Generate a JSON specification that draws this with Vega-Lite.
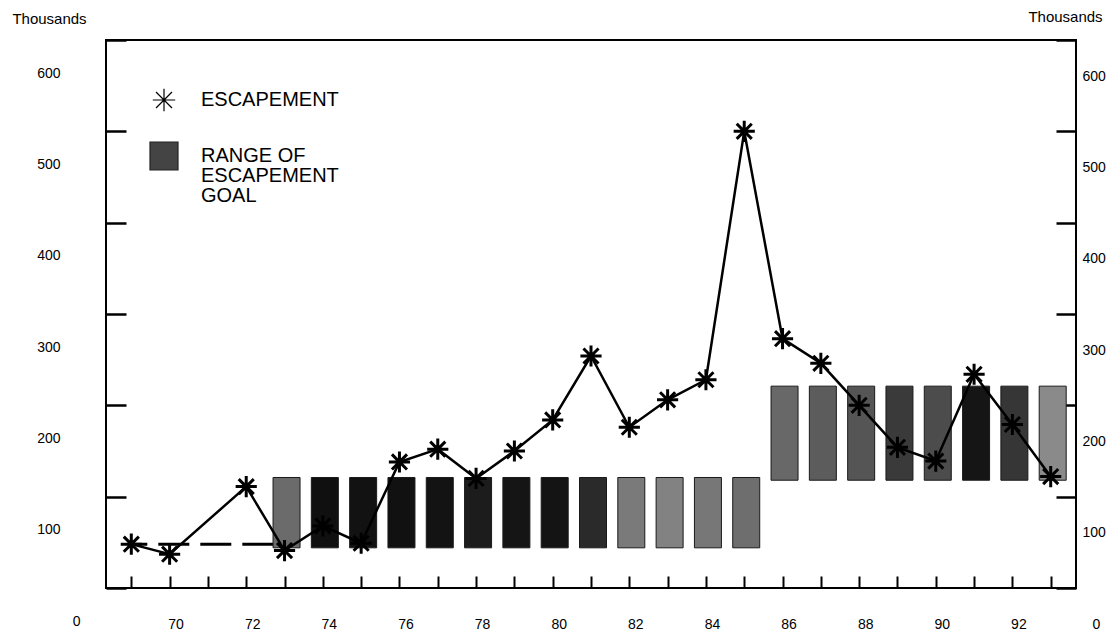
{
  "$schema": "https://vega.github.io/schema/vega-lite/v6.json",
  "autosize": {"type": "none"},
  "padding": {"left": 106, "top": 40, "right": 34, "bottom": 48},
  "width": 970,
  "height": 548,
  "background": "white",
  "datasets": {
    "escapement": [
      {"year": 1969, "escapement": 48, "series": "ESCAPEMENT"},
      {"year": 1970, "escapement": 37, "series": "ESCAPEMENT"},
      {"year": 1972, "escapement": 111, "series": "ESCAPEMENT"},
      {"year": 1973, "escapement": 41, "series": "ESCAPEMENT"},
      {"year": 1974, "escapement": 68, "series": "ESCAPEMENT"},
      {"year": 1975, "escapement": 49, "series": "ESCAPEMENT"},
      {"year": 1976, "escapement": 138, "series": "ESCAPEMENT"},
      {"year": 1977, "escapement": 152, "series": "ESCAPEMENT"},
      {"year": 1978, "escapement": 120, "series": "ESCAPEMENT"},
      {"year": 1979, "escapement": 150, "series": "ESCAPEMENT"},
      {"year": 1980, "escapement": 184, "series": "ESCAPEMENT"},
      {"year": 1981, "escapement": 254, "series": "ESCAPEMENT"},
      {"year": 1982, "escapement": 176, "series": "ESCAPEMENT"},
      {"year": 1983, "escapement": 206, "series": "ESCAPEMENT"},
      {"year": 1984, "escapement": 228, "series": "ESCAPEMENT"},
      {"year": 1985, "escapement": 500, "series": "ESCAPEMENT"},
      {"year": 1986, "escapement": 273, "series": "ESCAPEMENT"},
      {"year": 1987, "escapement": 246, "series": "ESCAPEMENT"},
      {"year": 1988, "escapement": 200, "series": "ESCAPEMENT"},
      {"year": 1989, "escapement": 154, "series": "ESCAPEMENT"},
      {"year": 1990, "escapement": 139, "series": "ESCAPEMENT"},
      {"year": 1991, "escapement": 234, "series": "ESCAPEMENT"},
      {"year": 1992, "escapement": 179, "series": "ESCAPEMENT"},
      {"year": 1993, "escapement": 122, "series": "ESCAPEMENT"}
    ],
    "goals": [
      {"year": 1973, "goal_low": 44, "goal_high": 121},
      {"year": 1974, "goal_low": 44, "goal_high": 121},
      {"year": 1975, "goal_low": 44, "goal_high": 121},
      {"year": 1976, "goal_low": 44, "goal_high": 121},
      {"year": 1977, "goal_low": 44, "goal_high": 121},
      {"year": 1978, "goal_low": 44, "goal_high": 121},
      {"year": 1979, "goal_low": 44, "goal_high": 121},
      {"year": 1980, "goal_low": 44, "goal_high": 121},
      {"year": 1981, "goal_low": 44, "goal_high": 121},
      {"year": 1982, "goal_low": 44, "goal_high": 121},
      {"year": 1983, "goal_low": 44, "goal_high": 121},
      {"year": 1984, "goal_low": 44, "goal_high": 121},
      {"year": 1985, "goal_low": 44, "goal_high": 121},
      {"year": 1986, "goal_low": 118, "goal_high": 221},
      {"year": 1987, "goal_low": 118, "goal_high": 221},
      {"year": 1988, "goal_low": 118, "goal_high": 221},
      {"year": 1989, "goal_low": 118, "goal_high": 221},
      {"year": 1990, "goal_low": 118, "goal_high": 221},
      {"year": 1991, "goal_low": 118, "goal_high": 221},
      {"year": 1992, "goal_low": 118, "goal_high": 221},
      {"year": 1993, "goal_low": 118, "goal_high": 221}
    ],
    "earlygoal": [
      {"start": 1969, "end": 1973, "level": 48}
    ]
  },
  "layer": [
    {
      "data": {"name": "earlygoal"},
      "mark": {"type": "rule", "color": "black", "strokeWidth": 3, "strokeDash": [31, 11], "strokeDashOffset": 15},
      "encoding": {
        "x": {
          "field": "start", "type": "quantitative",
          "scale": {"domain": [1968.47, 1993.53], "zero": false, "nice": false},
          "axis": {
            "orient": "bottom",
            "title": null,
            "values": [1969,1970,1971,1972,1973,1974,1975,1976,1977,1978,1979,1980,1981,1982,1983,1984,1985,1986,1987,1988,1989,1990,1991,1992,1993],
            "labelExpr": "datum.value % 2 === 0 ? substring(toString(datum.value), 2, 4) : ''",
            "domain": false,
            "grid": false,
            "tickSize": -12,
            "tickWidth": 2,
            "tickColor": "black",
            "labelPadding": 41,
            "labelOffset": 6,
            "labelFontSize": 14,
            "labelColor": "black",
            "labelOverlap": false,
            "labelFlush": false
          }
        },
        "x2": {"field": "end"},
        "y": {
          "field": "level", "type": "quantitative",
          "scale": {"domain": [0, 600], "zero": false, "nice": false},
          "axis": {
            "orient": "left",
            "values": [0, 100, 200, 300, 400, 500, 600],
            "domain": false,
            "grid": false,
            "tickSize": -20,
            "tickWidth": 2.5,
            "tickColor": "black",
            "labelPadding": {"condition": {"test": "datum.value === 0", "value": 46}, "value": 66},
            "labelOffset": 33,
            "labelFontSize": 14,
            "labelColor": "black",
            "labelOverlap": false,
            "labelFlush": false,
            "title": "Thousands",
            "titleAngle": 0,
            "titleX": -57,
            "titleY": -22,
            "titleAlign": "center",
            "titleBaseline": "middle",
            "titleFontWeight": "normal",
            "titleFontSize": 15,
            "titleColor": "black"
          }
        }
      }
    },
    {
      "data": {"name": "goals"},
      "mark": {"type": "bar", "stroke": "#1a1a1a", "strokeWidth": 1, "xOffset": 2},
      "encoding": {
        "x": {
          "field": "year", "type": "quantitative",
          "scale": {"domain": [1968.47, 1993.53], "zero": false, "nice": false},
          "axis": {
            "orient": "bottom",
            "title": null,
            "values": [1969,1970,1971,1972,1973,1974,1975,1976,1977,1978,1979,1980,1981,1982,1983,1984,1985,1986,1987,1988,1989,1990,1991,1992,1993],
            "labelExpr": "datum.value % 2 === 0 ? substring(toString(datum.value), 2, 4) : ''",
            "domain": false,
            "grid": false,
            "tickSize": -12,
            "tickWidth": 2,
            "tickColor": "black",
            "labelPadding": 41,
            "labelOffset": 6,
            "labelFontSize": 14,
            "labelColor": "black",
            "labelOverlap": false,
            "labelFlush": false
          }
        },
        "y": {"field": "goal_low", "type": "quantitative", "scale": {"domain": [0, 600], "zero": false, "nice": false}, "axis": null},
        "y2": {"field": "goal_high"},
        "size": {"value": 27},
        "fill": {
          "field": "year", "type": "ordinal", "legend": null,
          "scale": {
            "domain": [1973,1974,1975,1976,1977,1978,1979,1980,1981,1982,1983,1984,1985,1986,1987,1988,1989,1990,1991,1992,1993],
            "range": ["#6b6b6b","#101010","#121212","#111111","#131313","#1c1c1c","#151515","#141414","#2a2a2a","#7a7a7a","#828282","#777777","#6e6e6e","#686868","#5c5c5c","#555555","#3a3a3a","#4c4c4c","#151515","#363636","#8a8a8a"]
          }
        }
      }
    },
    {
      "data": {"name": "escapement"},
      "mark": {"type": "line", "color": "black", "strokeWidth": 2.5},
      "encoding": {
        "x": {
          "field": "year", "type": "quantitative",
          "scale": {"domain": [1968.47, 1993.53], "zero": false, "nice": false},
          "axis": {
            "orient": "bottom",
            "title": null,
            "values": [1969,1970,1971,1972,1973,1974,1975,1976,1977,1978,1979,1980,1981,1982,1983,1984,1985,1986,1987,1988,1989,1990,1991,1992,1993],
            "labelExpr": "datum.value % 2 === 0 ? substring(toString(datum.value), 2, 4) : ''",
            "domain": false,
            "grid": false,
            "tickSize": -12,
            "tickWidth": 2,
            "tickColor": "black",
            "labelPadding": 41,
            "labelOffset": 6,
            "labelFontSize": 14,
            "labelColor": "black",
            "labelOverlap": false,
            "labelFlush": false
          }
        },
        "y": {"field": "escapement", "type": "quantitative", "scale": {"domain": [0, 600], "zero": false, "nice": false}, "axis": null}
      }
    },
    {
      "data": {"name": "escapement"},
      "mark": {"type": "point", "filled": true, "fill": "#444444", "strokeWidth": 3, "size": 700, "opacity": 1},
      "encoding": {
        "x": {
          "field": "year", "type": "quantitative",
          "scale": {"domain": [1968.47, 1993.53], "zero": false, "nice": false},
          "axis": {
            "orient": "bottom",
            "title": null,
            "values": [1969,1970,1971,1972,1973,1974,1975,1976,1977,1978,1979,1980,1981,1982,1983,1984,1985,1986,1987,1988,1989,1990,1991,1992,1993],
            "labelExpr": "datum.value % 2 === 0 ? substring(toString(datum.value), 2, 4) : ''",
            "domain": false,
            "grid": false,
            "tickSize": -12,
            "tickWidth": 2,
            "tickColor": "black",
            "labelPadding": 41,
            "labelOffset": 6,
            "labelFontSize": 14,
            "labelColor": "black",
            "labelOverlap": false,
            "labelFlush": false
          }
        },
        "y": {
          "field": "escapement", "type": "quantitative",
          "scale": {"domain": [0, 600], "zero": false, "nice": false},
          "axis": {
            "orient": "right",
            "values": [0, 100, 200, 300, 400, 500, 600],
            "domain": false,
            "grid": false,
            "tickSize": -20,
            "tickWidth": 2.5,
            "tickColor": "black",
            "labelPadding": {"condition": {"test": "datum.value === 0", "value": 36}, "value": 26},
            "labelOffset": 36,
            "labelFontSize": 14,
            "labelColor": "black",
            "labelOverlap": false,
            "labelFlush": false,
            "title": "Thousands",
            "titleAngle": 0,
            "titleX": -11,
            "titleY": -24,
            "titleAlign": "center",
            "titleBaseline": "middle",
            "titleFontWeight": "normal",
            "titleFontSize": 15,
            "titleColor": "black"
          }
        },
        "shape": {
          "field": "series", "type": "nominal",
          "scale": {
            "domain": ["ESCAPEMENT", "RANGE OF ESCAPEMENT GOAL"],
            "range": ["M-0.8,0L0.8,0M0,-0.8L0,0.8M-0.57,-0.57L0.57,0.57M-0.57,0.57L0.57,-0.57", "square"]
          },
          "legend": {
            "title": null,
            "orient": "none",
            "legendX": 43,
            "legendY": 45,
            "direction": "vertical",
            "padding": 0,
            "symbolSize": 784,
            "symbolStrokeWidth": 1.2,
            "rowPadding": 25,
            "labelFont": "Liberation Sans",
            "labelFontSize": 20,
            "labelColor": "black",
            "labelOffset": 22,
            "labelLimit": 400,
            "labelExpr": "datum.label === 'RANGE OF ESCAPEMENT GOAL' ? ['RANGE OF', 'ESCAPEMENT', 'GOAL'] : datum.label"
          }
        },
        "stroke": {
          "field": "series", "type": "nominal",
          "scale": {"domain": ["ESCAPEMENT", "RANGE OF ESCAPEMENT GOAL"], "range": ["#000000", "#222222"]},
          "legend": {
            "title": null,
            "orient": "none",
            "legendX": 43,
            "legendY": 45,
            "direction": "vertical",
            "padding": 0,
            "symbolSize": 784,
            "symbolStrokeWidth": 1.2,
            "rowPadding": 25,
            "labelFont": "Liberation Sans",
            "labelFontSize": 20,
            "labelColor": "black",
            "labelOffset": 22,
            "labelLimit": 400,
            "labelExpr": "datum.label === 'RANGE OF ESCAPEMENT GOAL' ? ['RANGE OF', 'ESCAPEMENT', 'GOAL'] : datum.label"
          }
        }
      }
    }
  ],
  "resolve": {"axis": {"y": "independent"}},
  "config": {
    "font": "Liberation Sans",
    "view": {"stroke": "black", "strokeWidth": 2},
    "axis": {"labelFont": "Liberation Sans", "titleFont": "Liberation Sans"},
    "style": {"guide-label": {"lineHeight": 20}}
  }
}
